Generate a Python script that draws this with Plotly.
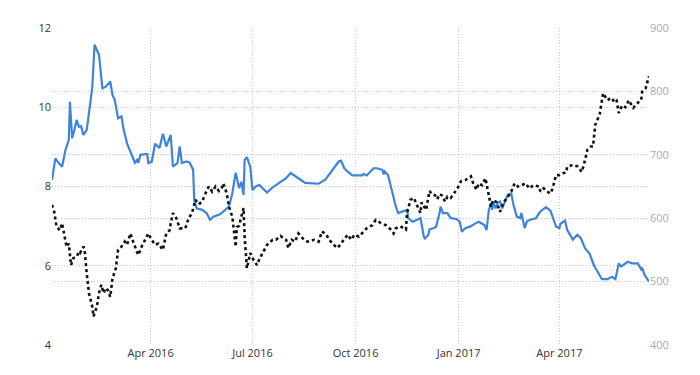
import plotly.graph_objects as go

blue_dates = [
    "2016-01-04", "2016-01-07", "2016-01-10", "2016-01-13", "2016-01-16", "2016-01-19", "2016-01-20",
    "2016-01-22", "2016-01-24", "2016-01-26", "2016-01-28", "2016-01-30", "2016-02-01", "2016-02-04",
    "2016-02-06", "2016-02-09", "2016-02-11", "2016-02-13", "2016-02-15", "2016-02-18", "2016-02-21",
    "2016-02-24", "2016-02-25", "2016-02-27", "2016-02-29", "2016-03-03", "2016-03-06", "2016-03-08",
    "2016-03-11", "2016-03-14", "2016-03-16", "2016-03-18", "2016-03-20", "2016-03-21", "2016-03-23",
    "2016-03-29", "2016-03-30", "2016-04-02", "2016-04-05", "2016-04-09", "2016-04-12", "2016-04-15",
    "2016-04-19", "2016-04-21", "2016-04-25", "2016-04-27", "2016-04-29", "2016-05-03", "2016-05-06",
    "2016-05-09", "2016-05-10", "2016-05-12", "2016-05-17", "2016-05-21", "2016-05-24", "2016-05-27",
    "2016-06-02", "2016-06-07", "2016-06-10", "2016-06-13", "2016-06-16", "2016-06-19", "2016-06-21",
    "2016-06-23", "2016-06-24", "2016-06-26", "2016-06-29", "2016-07-01", "2016-07-04", "2016-07-07",
    "2016-07-10", "2016-07-14", "2016-07-20", "2016-07-26", "2016-07-31", "2016-08-04", "2016-08-08",
    "2016-08-13", "2016-08-17", "2016-08-22", "2016-08-29", "2016-09-04", "2016-09-08", "2016-09-13",
    "2016-09-16", "2016-09-18", "2016-09-21", "2016-09-23", "2016-09-28", "2016-10-07", "2016-10-08",
    "2016-10-11", "2016-10-17", "2016-10-20", "2016-10-25", "2016-10-26", "2016-10-27", "2016-10-30",
    "2016-11-02", "2016-11-06", "2016-11-08", "2016-11-12", "2016-11-16", "2016-11-17", "2016-11-21",
    "2016-11-25", "2016-11-28", "2016-12-01", "2016-12-02", "2016-12-05", "2016-12-06", "2016-12-10",
    "2016-12-12", "2016-12-15", "2016-12-16", "2016-12-18", "2016-12-22", "2016-12-25", "2016-12-30",
    "2017-01-02", "2017-01-04", "2017-01-07", "2017-01-12", "2017-01-16", "2017-01-19", "2017-01-24",
    "2017-01-26", "2017-01-28", "2017-01-30", "2017-01-31", "2017-02-01", "2017-02-03", "2017-02-05",
    "2017-02-07", "2017-02-09", "2017-02-11", "2017-02-14", "2017-02-17", "2017-02-19", "2017-02-22",
    "2017-02-25", "2017-02-26", "2017-03-01", "2017-03-03", "2017-03-06", "2017-03-11", "2017-03-15",
    "2017-03-20", "2017-03-24", "2017-03-29", "2017-04-01", "2017-04-02", "2017-04-06", "2017-04-08",
    "2017-04-13", "2017-04-17", "2017-04-20", "2017-04-24", "2017-04-28", "2017-05-02", "2017-05-05",
    "2017-05-09", "2017-05-14", "2017-05-18", "2017-05-21", "2017-05-24", "2017-05-26", "2017-05-29",
    "2017-06-01", "2017-06-05", "2017-06-10", "2017-06-13", "2017-06-14", "2017-06-16", "2017-06-20",
]
blue_values = [
    8.17, 8.71, 8.59, 8.50, 8.92, 9.18, 10.14,
    9.22, 9.43, 9.68, 9.51, 9.52, 9.30, 9.43,
    9.85, 10.52, 11.58, 11.45, 11.32, 10.48, 10.52,
    10.61, 10.65, 10.31, 10.19, 9.72, 9.77, 9.43,
    9.09, 8.88, 8.72, 8.60, 8.67, 8.60, 8.80,
    8.82, 8.59, 8.62, 9.08, 8.97, 9.33, 9.01,
    9.30, 8.50, 8.59, 9.01, 8.59, 8.63, 8.60,
    8.42, 7.66, 7.45, 7.41, 7.33, 7.16, 7.24,
    7.30, 7.41, 7.49, 7.83, 8.35, 7.96, 8.12,
    7.79, 8.67, 8.74, 8.50, 7.91, 8.00, 8.04,
    7.96, 7.85, 8.00, 8.12, 8.21, 8.34, 8.27,
    8.17, 8.09, 8.08, 8.07, 8.17, 8.32, 8.50,
    8.63, 8.65, 8.46, 8.40, 8.28, 8.28, 8.32,
    8.28, 8.46, 8.46, 8.42, 8.31, 8.38, 8.29,
    7.91, 7.49, 7.33, 7.37, 7.41, 7.20, 7.11,
    7.16, 7.20, 6.73, 6.69, 6.78, 6.92, 6.95,
    6.99, 7.33, 7.49, 7.33, 7.33, 7.20, 7.18,
    7.11, 6.86, 6.95, 7.00, 7.07, 7.11, 7.03,
    6.90, 7.41, 7.59, 7.41, 7.59, 7.45, 7.59,
    7.62, 7.45, 7.59, 7.79, 7.83, 7.54, 7.24,
    7.20, 7.33, 6.95, 7.12, 7.16, 7.20, 7.37,
    7.48, 7.39, 6.99, 6.95, 7.06, 7.14, 6.90,
    6.66, 6.78, 6.70, 6.44, 6.30, 6.00, 5.85,
    5.66, 5.66, 5.72, 5.66, 6.06, 5.98, 6.04,
    6.10, 6.06, 6.06, 5.91, 5.95, 5.77, 5.60,
]

black_dates = [
    "2016-01-04", "2016-01-06", "2016-01-08", "2016-01-11", "2016-01-13", "2016-01-15", "2016-01-17",
    "2016-01-19", "2016-01-21", "2016-01-23", "2016-01-26", "2016-01-28", "2016-01-29", "2016-02-01",
    "2016-02-02", "2016-02-04", "2016-02-06", "2016-02-09", "2016-02-10", "2016-02-13", "2016-02-15",
    "2016-02-17", "2016-02-19", "2016-02-21", "2016-02-23", "2016-02-25", "2016-02-27", "2016-03-01",
    "2016-03-03", "2016-03-06", "2016-03-09", "2016-03-11", "2016-03-14", "2016-03-17", "2016-03-20",
    "2016-03-21", "2016-03-24", "2016-03-27", "2016-03-30", "2016-04-02", "2016-04-05", "2016-04-08",
    "2016-04-12", "2016-04-15", "2016-04-18", "2016-04-19", "2016-04-21", "2016-04-24", "2016-04-27",
    "2016-05-02", "2016-05-05", "2016-05-08", "2016-05-11", "2016-05-14", "2016-05-17", "2016-05-20",
    "2016-05-23", "2016-05-26", "2016-05-29", "2016-06-01", "2016-06-04", "2016-06-05", "2016-06-08",
    "2016-06-10", "2016-06-13", "2016-06-14", "2016-06-16", "2016-06-17", "2016-06-19", "2016-06-21",
    "2016-06-23", "2016-06-24", "2016-06-25", "2016-06-26", "2016-06-29", "2016-07-02", "2016-07-05",
    "2016-07-07", "2016-07-10", "2016-07-14", "2016-07-19", "2016-07-22", "2016-07-26", "2016-07-31",
    "2016-08-02", "2016-08-05", "2016-08-08", "2016-08-11", "2016-08-15", "2016-08-19", "2016-08-25",
    "2016-08-29", "2016-09-01", "2016-09-04", "2016-09-07", "2016-09-10", "2016-09-15", "2016-09-18",
    "2016-09-21", "2016-09-24", "2016-09-27", "2016-09-30", "2016-10-04", "2016-10-08", "2016-10-11",
    "2016-10-16", "2016-10-19", "2016-10-23", "2016-10-28", "2016-11-01", "2016-11-04", "2016-11-06",
    "2016-11-10", "2016-11-15", "2016-11-16", "2016-11-19", "2016-11-22", "2016-11-25", "2016-11-28",
    "2016-11-29", "2016-12-01", "2016-12-03", "2016-12-06", "2016-12-08", "2016-12-11", "2016-12-13",
    "2016-12-15", "2016-12-17", "2016-12-20", "2016-12-22", "2016-12-25", "2016-12-28", "2016-12-31",
    "2017-01-03", "2017-01-07", "2017-01-12", "2017-01-14", "2017-01-17", "2017-01-19", "2017-01-22",
    "2017-01-25", "2017-01-27", "2017-01-30", "2017-02-01", "2017-02-04", "2017-02-07", "2017-02-10",
    "2017-02-13", "2017-02-17", "2017-02-20", "2017-02-23", "2017-02-26", "2017-03-02", "2017-03-05",
    "2017-03-09", "2017-03-14", "2017-03-15", "2017-03-18", "2017-03-21", "2017-03-24", "2017-03-26",
    "2017-03-29", "2017-04-01", "2017-04-04", "2017-04-07", "2017-04-08", "2017-04-13", "2017-04-17",
    "2017-04-21", "2017-04-23", "2017-04-26", "2017-04-29", "2017-05-01", "2017-05-03", "2017-05-07",
    "2017-05-10", "2017-05-14", "2017-05-17", "2017-05-20", "2017-05-22", "2017-05-24", "2017-05-27",
    "2017-05-30", "2017-06-02", "2017-06-06", "2017-06-10", "2017-06-13", "2017-06-14", "2017-06-17",
    "2017-06-20",
]
black_values = [
    621, 610, 587, 581, 592, 571, 555,
    560, 526, 537, 539, 547, 545, 555,
    552, 513, 482, 460, 445, 460, 482,
    495, 482, 490, 486, 476, 505, 521,
    550, 555, 563, 558, 576, 560, 545,
    542, 555, 566, 576, 566, 558, 560,
    550, 576, 581, 592, 608, 600, 584,
    584, 600, 608, 629, 622, 626, 639,
    650, 642, 650, 643, 649, 655, 639,
    618, 602, 587, 555, 586, 588, 602,
    616, 571, 539, 521, 545, 534, 526,
    535, 545, 558, 566, 566, 572, 566,
    553, 566, 563, 576, 568, 563, 566,
    563, 579, 576, 568, 560, 553, 560,
    566, 574, 566, 574, 571, 579, 584,
    589, 597, 593, 589, 583, 576, 584,
    587, 582, 608, 629, 632, 620, 608,
    625, 620, 613, 643, 638, 636, 630,
    638, 636, 626, 634, 632, 639, 647,
    658, 660, 666, 655, 645, 655, 652,
    663, 645, 618, 629, 625, 610, 625,
    631, 642, 655, 650, 652, 655, 647,
    652, 650, 642, 647, 642, 639, 647,
    668, 668, 671, 672, 681, 684, 682,
    673, 685, 708, 713, 713, 747, 764,
    797, 786, 790, 784, 787, 766, 778,
    775, 786, 774, 782, 786, 800, 805,
    824,
]

left_ticks = [4, 6, 8, 10, 12]
right_ticks = [400, 500, 600, 700, 800, 900]
x_tick_dates = ["2016-04-01", "2016-07-01", "2016-10-01", "2017-01-01", "2017-04-01"]
x_tick_labels = ["Apr 2016", "Jul 2016", "Oct 2016", "Jan 2017", "Apr 2017"]

grid_color = "#c8c8c8"
grid_dash = "1px,2px"
font_family = "Open Sans, Liberation Sans, sans-serif"

fig = go.Figure()
fig.add_trace(go.Scatter(
    x=blue_dates, y=blue_values, mode="lines",
    line=dict(color="#3f84dc", width=2.2),
    yaxis="y", showlegend=False,
))
fig.add_trace(go.Scatter(
    x=black_dates, y=black_values, mode="lines",
    line=dict(color="#111111", width=2.6, dash="dot"),
    yaxis="y2", showlegend=False,
))

# the page body has an 8px default margin, so the figure is shrunk by 8px
fig.update_layout(
    width=692, height=367,
    margin=dict(l=44, r=51, t=20, b=30),
    paper_bgcolor="white", plot_bgcolor="white",
    font=dict(family=font_family, size=11, color="#333333"),
    xaxis=dict(
        type="date",
        range=["2016-01-04", "2017-06-20"],
        tickvals=x_tick_dates, ticktext=x_tick_labels,
        showgrid=True, gridcolor=grid_color, griddash=grid_dash, gridwidth=1,
        zeroline=False, showline=False, ticks="",
        tickfont=dict(size=11, color="#333333"),
    ),
    yaxis=dict(
        range=[4, 12], tickvals=left_ticks,
        showgrid=True, gridcolor=grid_color, griddash=grid_dash, gridwidth=1,
        zeroline=False, showline=False, ticks="",
        tickfont=dict(size=11, color="#333333"),
    ),
    yaxis2=dict(
        range=[400, 900], tickvals=right_ticks,
        overlaying="y", side="right",
        showgrid=True, gridcolor=grid_color, griddash=grid_dash, gridwidth=1,
        zeroline=False, showline=False, ticks="",
        tickfont=dict(size=11, color="#aaaaaa"),
    ),
)

fig.write_html("out.html")
